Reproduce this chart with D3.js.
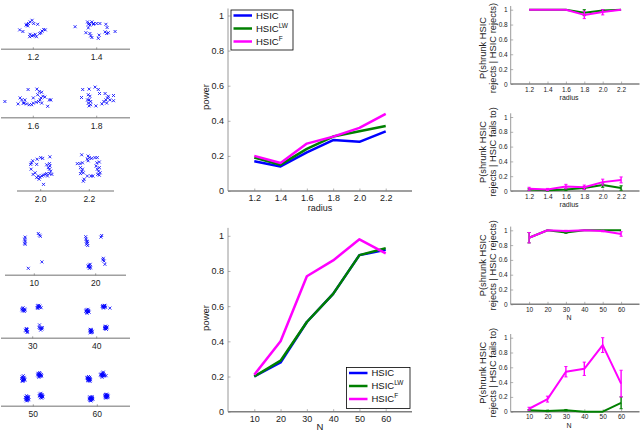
<!DOCTYPE html>
<html>
<head>
<meta charset="utf-8">
<script src="https://cdn.jsdelivr.net/npm/d3@7"></script>
<style>
  body { margin: 0; background: #fff; }
  svg { display: block; font-family: "Liberation Sans", Arial, sans-serif; }
</style>
</head>
<body>
<svg id="fig" width="640" height="432"></svg>
<script>
// x values
const radii = [1.2, 1.4, 1.6, 1.8, 2.0, 2.2];
const sizes = [10, 20, 30, 40, 50, 60];

// power vs radius
const powRadHSIC = [0.17, 0.14, 0.22, 0.29, 0.28, 0.34];
const powRadLW   = [0.19, 0.15, 0.24, 0.31, 0.34, 0.37];
const powRadF    = [0.20, 0.16, 0.27, 0.31, 0.36, 0.44];

// power vs N
const powNHSIC = [0.20, 0.28, 0.51, 0.67, 0.89, 0.92];
const powNLW   = [0.20, 0.29, 0.51, 0.67, 0.89, 0.93];
const powNF    = [0.21, 0.40, 0.77, 0.86, 0.98, 0.90];

// P(shrunk rejects | HSIC rejects), radius
const rejRadLW     = [1.00, 1.00, 1.00, 0.96, 0.99, 1.00];
const rejRadLWErr  = [0, 0, 0, 0.04, 0.01, 0];
const rejRadF      = [1.00, 1.00, 1.00, 0.93, 0.97, 1.00];
const rejRadFErr   = [0, 0, 0, 0.05, 0.04, 0];
// P(shrunk rejects | HSIC fails to), radius
const failRadLW    = [0.02, 0.01, 0.02, 0.04, 0.08, 0.04];
const failRadLWErr = [0.01, 0.01, 0.015, 0.02, 0.03, 0.03];
const failRadF     = [0.03, 0.02, 0.06, 0.05, 0.12, 0.15];
const failRadFErr  = [0.02, 0.015, 0.03, 0.03, 0.04, 0.04];

// P(shrunk rejects | HSIC rejects), N
const rejNLW     = [0.90, 1.00, 0.97, 1.00, 1.00, 1.00];
const rejNLWErr  = [0.07, 0, 0.01, 0, 0, 0];
const rejNF      = [0.90, 1.00, 0.99, 1.00, 0.99, 0.95];
const rejNFErr   = [0.07, 0, 0.01, 0, 0.01, 0.03];
// P(shrunk rejects | HSIC fails to), N
const failNLW    = [0.02, 0.01, 0.02, 0.00, 0.00, 0.12];
const failNLWErr = [0.01, 0.01, 0.01, 0, 0, 0.08];
const failNF     = [0.04, 0.17, 0.54, 0.58, 0.90, 0.38];
const failNFErr  = [0.02, 0.04, 0.07, 0.09, 0.10, 0.18];

const seriesNames = ["HSIC", "HSIC", "HSIC"];
const seriesSups = ["", "LW", "F"];

// example samples, offsets within each small panel
const samp12 = [[-0.3,2],[-0.8,1.6],[-1.2,1.2],[-1.6,1],[-1.4,0.6],[-1.8,0.8],[1.1,1],[0.1,1.2],[-3.4,-0.4],[-2.6,-0.8],[-0.8,-1.5],[-0.3,-1.9],[0.1,-1.8],[0.8,-2.1],[0.5,-1.5],[2.2,-0.7],[2.6,-0.3],[1.9,-1.1],[1.6,-1.3],[3,-0.4],[-0.9,-2.1]];
const samp14 = [[-5.4,0.4],[-2.3,1.6],[-1.8,1.2],[-1.2,1.6],[-1.7,0.8],[-2.1,1],[-0.8,1.2],[0,1.2],[0.8,1.2],[2.3,1],[2.6,0.2],[4.6,-0.8],[-2.7,-1.1],[-1.7,-1.3],[-1.2,-2.3],[-1.5,-1.9],[0.6,-1.7],[0.4,-2.5],[2.1,-0.9],[2.5,-1.3],[2.9,-1.1],[-0.8,1],[-2.1,0.1]];
const samp16 = [[-7.1,-1.2],[-3.8,-1.8],[-3.3,-0.3],[-2.9,-0.8],[-2.1,-0.8],[-1.3,1.8],[-2.3,-1.6],[-1.7,-1.8],[-1,-2],[-0.4,-2],[0,-1.6],[0.7,-1.4],[1.3,-1.2],[1.7,-0.8],[1.9,-0.3],[2.4,0.1],[2.1,-1.6],[2.9,-0.1],[4,-0.8],[4.4,-0.8],[3.6,-2.4],[0.9,1.9],[1.5,1.3],[2.1,1.1],[0,-0.3],[-2.5,-1.6],[1.1,0.5]];
const samp18 = [[-3.5,1.8],[-1.9,1.9],[-0.4,2.4],[0.4,1.8],[0.7,0.8],[-3.8,-0.2],[-2.1,0.5],[-1.7,0.1],[-1.9,-0.8],[-2.1,-1.6],[-1.5,-2],[-1.9,-2.3],[-0.2,-2.3],[1.3,-1.8],[1.8,-1.2],[2.3,-0.8],[2.7,-0.3],[2.9,0.1],[3.3,-0.8],[2.5,-1.6],[4.2,0.3],[4.2,-1],[2.1,0.8],[-2.3,-0.8],[-1.5,-1.2]];
const samp20 = [[2.3,3.3],[0,3.1],[0.5,2.9],[-0.9,2.7],[-2,2.3],[-2.3,1.8],[-2.5,1.4],[-1,1.4],[1.5,1.3],[2.2,1.6],[2.3,1],[1.9,0.6],[2.2,0.2],[2.5,-0.3],[2.8,-1.1],[2.2,-0.9],[1.5,-0.9],[1.1,-1.1],[0.7,-1.3],[0.3,-1.5],[-0.2,-1.8],[-0.6,-1.5],[-1,-1.9],[-1.9,-1.1],[-2.4,0.2],[-1.4,-0.7],[-0.4,-2.3],[0.7,-3.6],[1.7,-1.5]];
const samp22 = [[-1.9,3.8],[-0.3,3.5],[0,3.1],[-0.5,2.7],[-0.3,2.3],[1.4,3.1],[2,3.1],[-3,1.6],[-2.3,1.6],[-1.7,1.8],[1.9,1.8],[2.5,2],[-2.2,0.6],[-1.9,-0.3],[-1.5,-0.7],[-2.2,-0.9],[-1.7,0.2],[-0.5,-1.5],[0.4,-1.5],[0.9,-1.5],[2,0.2],[2.5,0.6],[2.3,-0.3],[2.7,-0.7],[2.1,-1.1],[2.5,-1.3],[-1.3,-2.3],[-1.5,-2.8],[1.7,1],[0.6,2.9]];

const sampN10 = [[-2.3,4.3],[-2.4,3.8],[-2.3,3.3],[-2.4,2.8],[1,5.2],[1.3,4.8],[1.5,4.5],[1.9,-1.9],[-1.5,-3.5],[-2.3,2.5]];
const sampN20 = [[-2.5,4.4],[-2.4,3.8],[-2.3,3.3],[-2.1,2.8],[-2,2.2],[-2.3,2.5],[1.5,4.7],[1.3,4.3],[-1.6,-2.7],[-1.4,-3.1],[-1.9,-2.9],[-1.3,-3.4],[-1.6,-3.5],[1.9,-1],[2.1,-1.7],[2.3,-2.5],[1.8,-1.4],[-2.1,3.2],[-1.8,-3.1],[-1.4,-2.5]];
const sampN30 = [[-2.6,2.2],[-2.3,1.8],[-2.0,2.1],[-2.5,1.6],[-2.1,1.5],[-2.4,2.4],[-1.9,1.8],[-2.7,1.9],
  [1.2,2.9],[1.4,2.6],[1.7,2.5],[1.1,2.4],[1.5,3.0],[2.1,2.4],[1.3,2.2],[1.8,2.8],
  [-1.6,-2.8],[-1.4,-3.1],[-1.7,-3.4],[-1.3,-3.6],[-1.5,-3.0],[-1.8,-3.2],[-1.4,-3.8],
  [1.7,-1.9],[2.1,-2.6],[1.8,-2.8],[2.3,-2.9],[1.6,-2.5],[2.0,-3.2],[2.4,-2.6]];
const sampN40 = [[-2.6,1.9],[-2.3,1.5],[-2.0,1.7],[-2.5,1.2],[-2.2,2.0],[-2.7,1.5],[-1.9,1.3],[-2.4,1.0],[-2.1,1.4],[-2.6,1.6],
  [1.5,2.9],[1.8,2.6],[2.1,2.8],[1.6,2.5],[2.0,3.0],[1.7,2.3],[2.2,2.5],[1.4,2.7],[1.9,2.9],[3.3,2.3],
  [-1.6,-3.0],[-1.3,-3.3],[-1.5,-3.6],[-1.2,-3.8],[-1.7,-3.4],[-1.4,-3.1],[-1.1,-3.5],[-1.6,-3.9],[-1.3,-3.7],[-1.5,-3.2],
  [2.1,-2.3],[2.4,-2.5],[2.2,-2.8],[2.5,-2.7],[2.0,-2.6],[2.3,-2.9],[2.6,-2.4],[2.2,-2.2],[2.4,-3.0],[2.0,-2.8]];
const sampN50 = [[-2.8,2.1],[-2.5,1.8],[-2.2,1.6],[-2.7,1.4],[-2.4,1.2],[-2.9,1.7],[-2.3,2.0],[-2.6,1.0],[-2.1,1.3],[-2.5,2.4],[-2.8,1.1],[-2.4,1.5],
  [1.2,3.0],[1.5,2.7],[1.8,2.5],[1.3,2.3],[1.7,2.9],[2.0,2.7],[1.4,2.0],[1.9,2.2],[1.1,2.6],[1.6,3.2],[2.1,2.4],[1.5,2.4],[1.3,2.8],
  [-1.7,-2.6],[-1.5,-2.9],[-1.8,-3.2],[-1.3,-3.3],[-1.6,-3.5],[-1.2,-3.0],[-1.9,-3.6],[-1.4,-3.8],[-1.1,-3.6],[-1.7,-3.9],[-1.5,-3.2],[-2.0,-3.0],[-1.3,-2.8],
  [1.6,-2.2],[1.9,-2.4],[2.2,-2.3],[1.7,-2.7],[2.0,-2.9],[2.3,-2.6],[1.5,-2.6],[1.8,-3.1],[2.1,-3.2],[2.4,-2.9],[1.9,-2.0],[2.2,-2.8]];
const sampN60 = [[-2.4,2.0],[-2.1,1.8],[-1.8,1.7],[-2.3,1.5],[-2.0,1.3],[-2.5,1.7],[-1.9,2.0],[-2.2,1.1],[-1.7,1.4],[-2.4,1.2],[-2.1,1.6],[-2.6,1.9],[-1.8,1.0],[-2.2,2.2],[-2.0,1.5],
  [0.9,2.8],[1.2,2.6],[1.5,2.9],[1.1,2.3],[1.4,2.5],[1.7,2.7],[1.3,3.1],[1.6,2.3],[1.0,2.5],[1.8,2.4],[1.2,2.0],[2.2,2.4],[1.5,3.3],[1.3,2.8],[0.8,2.6],
  [-1.9,-2.9],[-1.6,-3.0],[-1.3,-3.1],[-1.8,-3.3],[-1.5,-3.4],[-1.2,-3.3],[-2.0,-3.5],[-1.7,-3.7],[-1.4,-3.6],[-1.1,-3.5],[-1.6,-3.9],[-1.9,-3.2],[-1.3,-2.8],[-1.5,-3.2],[-1.8,-3.8],
  [2.0,-2.3],[2.3,-2.4],[2.6,-2.5],[2.1,-2.7],[2.4,-2.9],[2.7,-2.7],[1.9,-2.6],[2.2,-3.0],[2.5,-3.1],[2.3,-2.2],[2.0,-2.9],[2.6,-2.9],[2.2,-2.5],[2.4,-2.6],[2.1,-3.2]];

const BLUE = "#0000ff", GREEN = "#008000", MAGENTA = "#ff00ff", AXIS = "#7f7f7f";
const svg = d3.select("#fig");

// ---------- small sample panels ----------
function samplePanel(axisY, x0, x1, ticks, labels, samples) {
    const g = svg.append("g");
    g.append("line").attr("x1", x0).attr("x2", x1).attr("y1", axisY).attr("y2", axisY)
        .attr("stroke", "#a0a0a0").attr("stroke-width", 1.6);
    ticks.forEach((tx, i) => {
        g.append("line").attr("x1", tx).attr("x2", tx).attr("y1", axisY - 2).attr("y2", axisY)
            .attr("stroke", "#666").attr("stroke-width", 0.6);
        g.append("text").attr("x", tx).attr("y", axisY + 11).attr("text-anchor", "middle")
            .attr("font-size", "8.5px").attr("fill", "#222").text(labels[i]);
        const cy = axisY - 21;
        const sx = d3.scaleLinear().domain([-8, 8]).range([tx - 32, tx + 32]);
        const sy = d3.scaleLinear().domain([-8, 8]).range([cy + 32, cy - 32]);
        g.append("g").selectAll("path").data(samples[i]).join("path")
            .attr("d", d => {
                const px = sx(d[0]), py = sy(d[1]), r = 1.5;
                return `M${px - r},${py - r}L${px + r},${py + r}M${px - r},${py + r}L${px + r},${py - r}`;
            })
            .attr("stroke", BLUE).attr("stroke-width", 0.8).attr("fill", "none");
    });
}

samplePanel(49.3, 1, 130, [33.3, 96.7], ["1.2", "1.4"], [samp12, samp14]);
samplePanel(117.7, 1, 130, [33.3, 96.7], ["1.6", "1.8"], [samp16, samp18]);
samplePanel(191, 17, 114, [40.7, 89.3], ["2.0", "2.2"], [samp20, samp22]);
samplePanel(275.3, 5, 126, [34.3, 95.7], ["10", "20"], [sampN10, sampN20]);
samplePanel(338.3, 1, 130, [32.7, 96.7], ["30", "40"], [sampN30, sampN40]);
samplePanel(406.3, 1, 130, [33.3, 97.3], ["50", "60"], [sampN50, sampN60]);

// ---------- axes helper ----------
function axesFrame(o) {
    const g = svg.append("g");
    const x = d3.scaleLinear().domain(o.xDomain).range([o.left, o.right]);
    const y = d3.scaleLinear().domain([0, 1]).range([o.y0, o.y1]);
    const top = y(o.yTop);
    g.append("line").attr("x1", o.left).attr("x2", o.right).attr("y1", o.y0).attr("y2", o.y0)
        .attr("stroke", AXIS).attr("stroke-width", 1.4);
    g.append("line").attr("x1", o.left).attr("x2", o.left).attr("y1", o.y0).attr("y2", top)
        .attr("stroke", AXIS).attr("stroke-width", 0.8);
    const xa = g.append("g").attr("transform", `translate(0,${o.y0})`)
        .call(d3.axisBottom(x).tickValues(o.xTicks).tickFormat(o.xFmt).tickSize(-2.5).tickPadding(o.xPad));
    const ya = g.append("g").attr("transform", `translate(${o.left},0)`)
        .call(d3.axisLeft(y).tickValues([0, 0.2, 0.4, 0.6, 0.8, 1]).tickFormat(d => d === 0 ? "0" : d === 1 ? "1" : d3.format(".1f")(d)).tickSize(-2.5).tickPadding(o.yPad));
    [xa, ya].forEach(a => {
        a.select(".domain").remove();
        a.selectAll("line").attr("stroke", AXIS).attr("stroke-width", 0.6);
        a.selectAll("text").attr("fill", "#222").attr("font-size", o.tickFont)
            .attr("font-family", "Liberation Sans, Arial, sans-serif");
    });
    g.append("text").attr("x", (o.left + (o.right)) / 2 - (o.xlabShift || 0)).attr("y", o.xlabY)
        .attr("text-anchor", "middle").attr("font-size", o.labFont).attr("fill", "#222").text(o.xlabel);
    return { g, x, y };
}

function lineSeries(ax, xs, ys, color, width) {
    ax.g.append("path").datum(ys)
        .attr("d", d3.line().x((d, i) => ax.x(xs[i])).y(d => ax.y(d)))
        .attr("fill", "none").attr("stroke", color).attr("stroke-width", width)
        .attr("stroke-linejoin", "round");
}

function errSeries(ax, xs, ys, errs, color) {
    lineSeries(ax, xs, ys, color, 2);
    ys.forEach((v, i) => {
        if (!errs[i]) return;
        const px = ax.x(xs[i]);
        const lo = ax.y(Math.max(0, v - errs[i])), hi = ax.y(Math.min(1, v + errs[i]));
        ax.g.append("line").attr("x1", px).attr("x2", px).attr("y1", lo).attr("y2", hi)
            .attr("stroke", color).attr("stroke-width", 1.4);
        [lo, hi].forEach(yy => ax.g.append("line").attr("x1", px - 1.6).attr("x2", px + 1.6)
            .attr("y1", yy).attr("y2", yy).attr("stroke", color).attr("stroke-width", 1));
    });
}

function legend(x0, y0, w, h) {
    const g = svg.append("g");
    g.append("rect").attr("x", x0).attr("y", y0).attr("width", w).attr("height", h)
        .attr("fill", "#fff").attr("stroke", "#000").attr("stroke-width", 0.8);
    [BLUE, GREEN, MAGENTA].forEach((c, i) => {
        const yy = y0 + 5.5 + i * 13;
        g.append("line").attr("x1", x0 + 2.5).attr("x2", x0 + 21).attr("y1", yy).attr("y2", yy)
            .attr("stroke", c).attr("stroke-width", 2.5);
        const t = g.append("text").attr("x", x0 + 25).attr("y", yy + 3.4)
            .attr("font-size", "9.5px").attr("fill", "#111").text(seriesNames[i]);
        if (seriesSups[i]) t.append("tspan").attr("dy", -4).attr("font-size", "6.5px").text(seriesSups[i]);
    });
}

function powerLabel(cy) {
    svg.append("text").attr("transform", `translate(209,${cy}) rotate(-90)`)
        .attr("text-anchor", "middle").attr("font-size", "9.5px").attr("fill", "#222").text("power");
}

// ---------- power vs radius ----------
const fmtR = d3.format(".1f");
const m1 = axesFrame({ xDomain: [1.0, 2.4], left: 228, right: 412, y0: 191, y1: 15.5, yTop: 1.04,
    xTicks: radii, xFmt: fmtR, xPad: 4, yPad: 4, tickFont: "9px", labFont: "9px",
    xlabel: "radius", xlabY: 211 });
lineSeries(m1, radii, powRadHSIC, BLUE, 2.5);
lineSeries(m1, radii, powRadLW, GREEN, 2.5);
lineSeries(m1, radii, powRadF, MAGENTA, 2.5);
powerLabel(97);
legend(231, 10, 62, 40);

// ---------- power vs N ----------
const m2 = axesFrame({ xDomain: [0, 70], left: 228, right: 412, y0: 411.7, y1: 235.8, yTop: 1.045,
    xTicks: sizes, xFmt: d3.format("d"), xPad: 4, yPad: 4, tickFont: "9px", labFont: "9.5px",
    xlabel: "N", xlabY: 430 });
lineSeries(m2, sizes, powNHSIC, BLUE, 2.5);
lineSeries(m2, sizes, powNLW, GREEN, 2.5);
lineSeries(m2, sizes, powNF, MAGENTA, 2.5);
powerLabel(318);
legend(346.5, 367.5, 63.5, 41);

// ---------- conditional panels ----------
function condLabel(cy, second) {
    const t = svg.append("text").attr("transform", `translate(486,${cy}) rotate(-90)`)
        .attr("text-anchor", "middle").attr("font-size", "9.3px").attr("fill", "#222");
    t.append("tspan").attr("x", 0).attr("dy", 0).text("P(shrunk HSIC");
    t.append("tspan").attr("x", 0).attr("dy", 10).text(second);
}

const condSpecs = [
    { y0: 84, y1: 9.7, xs: radii, dom: [1.0, 2.4], fmt: fmtR, lab: "radius", labY: 99.5,
      lw: rejRadLW, lwE: rejRadLWErr, f: rejRadF, fE: rejRadFErr, second: "rejects | HSIC rejects)" },
    { y0: 191, y1: 117, xs: radii, dom: [1.0, 2.4], fmt: fmtR, lab: "radius", labY: 206.5,
      lw: failRadLW, lwE: failRadLWErr, f: failRadF, fE: failRadFErr, second: "rejects | HSIC fails to)" },
    { y0: 304.3, y1: 230.3, xs: sizes, dom: [0, 70], fmt: d3.format("d"), lab: "N", labY: 320,
      lw: rejNLW, lwE: rejNLWErr, f: rejNF, fE: rejNFErr, second: "rejects | HSIC rejects)" },
    { y0: 411.7, y1: 337.7, xs: sizes, dom: [0, 70], fmt: d3.format("d"), lab: "N", labY: 428,
      lw: failNLW, lwE: failNLWErr, f: failNF, fE: failNFErr, second: "rejects | HSIC fails to)" }
];

condSpecs.forEach(s => {
    const ax = axesFrame({ xDomain: s.dom, left: 510.7, right: 639.5, y0: s.y0, y1: s.y1, yTop: 1.05,
        xTicks: s.xs, xFmt: s.fmt, xPad: 3, yPad: 3, tickFont: "6.5px", labFont: "7px",
        xlabel: s.lab, xlabY: s.labY, xlabShift: 6 });
    errSeries(ax, s.xs, s.lw, s.lwE, GREEN);
    errSeries(ax, s.xs, s.f, s.fE, MAGENTA);
    condLabel(Math.max((s.y0 + s.y1) / 2 - 2, 48), s.second);
});
</script>
</body>
</html>
